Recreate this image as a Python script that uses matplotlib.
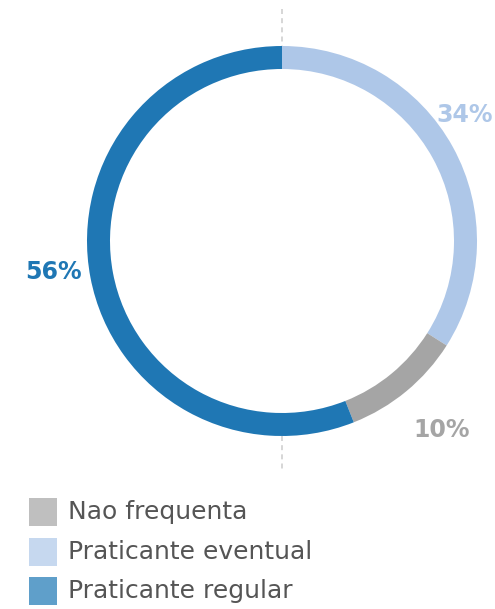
import matplotlib.pyplot as plt
from matplotlib.patches import Rectangle

labels = ['Praticante eventual', 'Nao frequenta', 'Praticante regular']
shares = [34, 10, 56]
ring_colors = ['#aec7e8', '#a5a5a5', '#1f77b4']

legend_labels = ['Nao frequenta', 'Praticante eventual', 'Praticante regular']
legend_colors = ['#bfbfbf', '#c6d8ef', '#5f9fca']

W, H = 495, 609
fig = plt.figure(figsize=(W / 100, H / 100), dpi=100)
ax = fig.add_axes([0, 0, 1, 1])

cx, cy, r = 282, H - 241, 195
ax.pie(shares, colors=ring_colors, startangle=90, counterclock=False,
       radius=r, center=(cx, cy), wedgeprops=dict(width=23, linewidth=0))

# dashed guides above and below the ring
ax.plot([cx, cx], [H - 9, H - 47], ls=(0, (3, 2.5)), color='#d0d0d0', lw=1.2, zorder=0)
ax.plot([cx, cx], [H - 436, H - 471], ls=(0, (3, 2.5)), color='#d0d0d0', lw=1.2, zorder=0)

# percentage labels (right edge x, centre y in pixels)
label_pos = {'Praticante eventual': (493, 115), 'Nao frequenta': (470, 430),
             'Praticante regular': (82, 272)}
for name, val, col in zip(labels, shares, ring_colors):
    x, y = label_pos[name]
    ax.text(x, H - y, f'{val}%', color=col, fontsize=17, fontweight='bold',
            ha='right', va='center')

# legend
rows = [512, 552, 591]
for y, name, col in zip(rows, legend_labels, legend_colors):
    ax.add_patch(Rectangle((29, H - y - 14), 28, 28, color=col, lw=0))
    ax.text(68, H - y, name, color='#555555', fontsize=18, va='center', ha='left')

ax.set_xlim(0, W)
ax.set_ylim(0, H)
ax.set_aspect('auto')
ax.axis('off')

fig.savefig('out.png', dpi=100)
